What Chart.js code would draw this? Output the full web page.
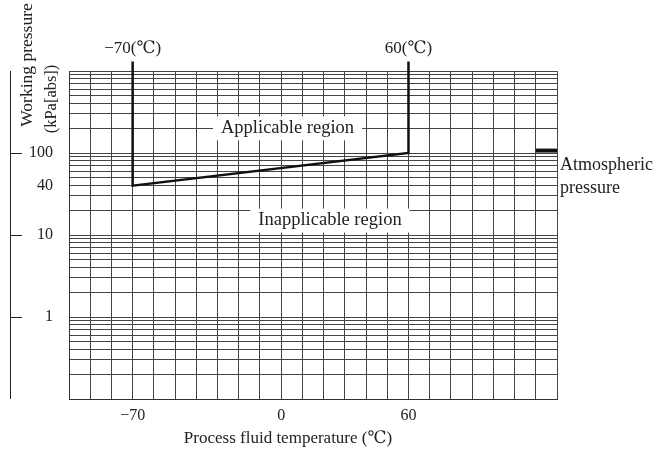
<!DOCTYPE html>
<html>
<head>
<meta charset="utf-8">
<script src="https://cdn.jsdelivr.net/npm/chart.js@4.4.1/dist/chart.umd.min.js"></script>
<style>
  html, body { margin:0; padding:0; background:#fff; }
  #wrap { width:672px; height:452px; }
</style>
</head>
<body>
<div id="wrap"><canvas id="c" width="672" height="452"></canvas></div>
<script>
// boundary of the applicable region (temperature degC, pressure kPa abs)
const boundaryX = [-70, -70, 60, 60];
const boundaryY = [1310, 40, 100, 1310];
// atmospheric pressure mark
const atmX = [120, 130];
const atmY = [107, 107];
// tick labels
const xTickLabels = [-70, 0, 60];
const yTickLabels = [1, 10, 40, 100];
const yAxisMarks = [1, 10, 100];
// text inside the plot
const regionNames = ['Applicable region', 'Inapplicable region'];
const regionX = [3, 23];
const regionY = [200, 15];
const topLabels = ['\u221270(\u2103)', '60(\u2103)'];

const FONT = "'Liberation Serif', 'DejaVu Serif', serif";
const INK = '#222';
const GRID = '#444';

function fmt(v){ return v < 0 ? '\u2212' + Math.abs(v) : String(v); }

const decorations = {
  id: 'decorations',
  afterDatasetsDraw(chart){
    const { ctx, scales:{ x, y } } = chart;
    ctx.save();
    ctx.fillStyle = INK;
    ctx.textAlign = 'center';
    ctx.textBaseline = 'middle';

    // region labels on white boxes
    ctx.font = '18.5px ' + FONT;
    regionNames.forEach((t, i) => {
      const px = x.getPixelForValue(regionX[i]);
      const py = y.getPixelForValue(regionY[i]);
      const w = ctx.measureText(t).width + 16;
      ctx.fillStyle = '#fff';
      ctx.fillRect(px - w/2, py - 12, w, 24);
      ctx.fillStyle = INK;
      ctx.fillText(t, px, py);
    });

    // labels above the boundary lines
    ctx.font = '17px ' + FONT;
    topLabels.forEach((t, i) => {
      const px = x.getPixelForValue(i === 0 ? boundaryX[0] : boundaryX[3]);
      ctx.fillText(t, px, 49);
    });

    // atmospheric pressure note
    ctx.textAlign = 'left';
    ctx.font = '18px ' + FONT;
    const ax = x.getPixelForValue(atmX[1]) + 3;
    ctx.fillText('Atmospheric', ax, 165);
    ctx.fillText('pressure', ax, 188);

    // x axis title
    ctx.textAlign = 'center';
    ctx.font = '17px ' + FONT;
    ctx.fillText('Process fluid temperature (\u2103)', 288, 439);

    // y axis title (rotated)
    ctx.save();
    ctx.translate(27, 65);
    ctx.rotate(-Math.PI/2);
    ctx.font = '17.5px ' + FONT;
    ctx.fillText('Working pressure', 0, 0);
    ctx.restore();
    ctx.save();
    ctx.translate(52, 99);
    ctx.rotate(-Math.PI/2);
    ctx.font = '16.5px ' + FONT;
    ctx.fillText('(kPa[abs])', 0, 0);
    ctx.restore();

    // separate y axis line with tick marks
    ctx.strokeStyle = INK;
    ctx.lineWidth = 1;
    ctx.beginPath();
    ctx.moveTo(10.5, y.top);
    ctx.lineTo(10.5, y.bottom);
    yAxisMarks.forEach(v => {
      const py = Math.round(y.getPixelForValue(v)) + 0.5;
      ctx.moveTo(10, py);
      ctx.lineTo(22, py);
    });
    ctx.stroke();
    ctx.restore();
  }
};

new Chart(document.getElementById('c'), {
  type: 'line',
  data: {
    datasets: [
      {
        data: boundaryX.map((v, i) => ({ x: v, y: boundaryY[i] })),
        borderColor: '#111', borderWidth: 2.5, pointRadius: 0, clip: false, tension: 0
      },
      {
        data: atmX.map((v, i) => ({ x: v, y: atmY[i] })),
        borderColor: '#111', borderWidth: 4, pointRadius: 0, borderCapStyle: 'butt'
      }
    ]
  },
  options: {
    responsive: false,
    animation: false,
    layout: { padding: { top: 71, right: 115, left: 0, bottom: 0 } },
    plugins: { legend: { display: false }, tooltip: { enabled: false } },
    scales: {
      x: {
        type: 'linear', min: -100, max: 130,
        afterFit(s){ s.height = 53; },
        afterBuildTicks(s){
          const t = [];
          for (let v = -100; v <= 130; v += 10) t.push({ value: v });
          s.ticks = t;
        },
        grid: { color: GRID, lineWidth: 1, drawTicks: false },
        border: { color: '#333', width: 1 },
        ticks: {
          autoSkip: false, maxRotation: 0, padding: 7, color: INK,
          font: { family: FONT, size: 16 },
          callback: v => xTickLabels.includes(v) ? fmt(v) : ''
        }
      },
      y: {
        type: 'logarithmic', min: 0.1, max: 1000,
        afterFit(s){ s.width = 69; },
        afterBuildTicks(s){
          const t = [];
          for (let e = -1; e < 3; e++) {
            for (let m = 1; m <= 9; m++) t.push({ value: +(m * Math.pow(10, e)).toPrecision(3) });
          }
          t.push({ value: 1000 });
          s.ticks = t;
        },
        grid: { color: GRID, lineWidth: 1, drawTicks: false },
        border: { color: '#333', width: 1 },
        ticks: {
          autoSkip: false, padding: 16, color: INK,
          font: { family: FONT, size: 16 },
          callback: v => yTickLabels.includes(v) ? String(v) : ''
        }
      }
    }
  },
  plugins: [decorations]
});
</script>
</body>
</html>
